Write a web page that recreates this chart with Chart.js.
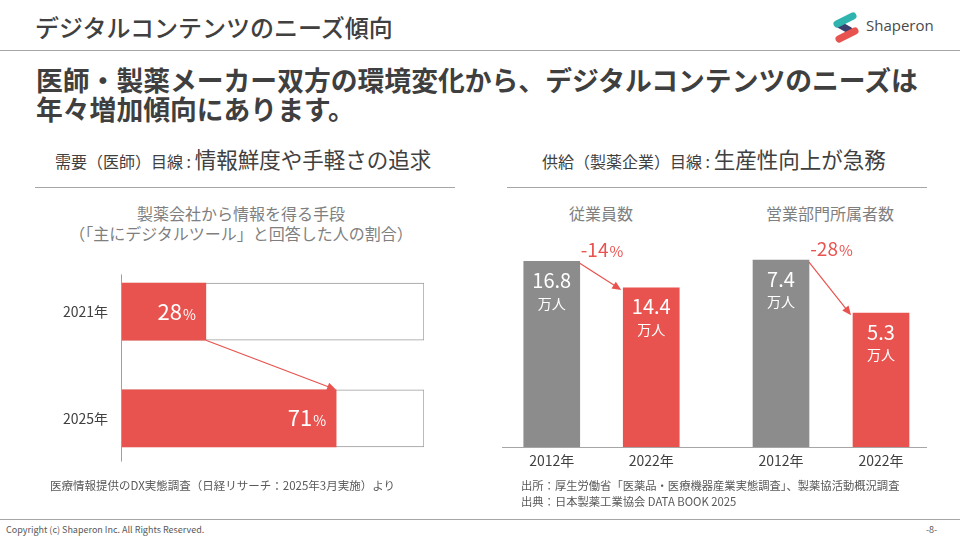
<!DOCTYPE html>
<html lang="ja">
<head>
<meta charset="utf-8">
<title>デジタルコンテンツのニーズ傾向</title>
<script src="https://cdn.jsdelivr.net/npm/chart.js@4.4.1/dist/chart.umd.min.js"></script>
<style>
  body { margin: 0; width: 960px; height: 540px; overflow: hidden; background: #fff; position: relative;
         font-family: "Noto Sans CJK JP", "Noto Sans", sans-serif; color: #404040; }
  .t { position: absolute; white-space: nowrap; line-height: 1; }
  .rule { position: absolute; height: 1px; background: #a6a6a6; }
  canvas { position: absolute; }
</style>
</head>
<body>
<script>
// 需要（医師）：製薬会社から情報を得る手段で「主にデジタルツール」と回答した割合
const needYears = ['2021年', '2025年'];
const needShare = [28, 71];
const needFull = [100, 100];

// 供給（製薬企業）：従業員数・営業部門所属者数（万人）
const supplyYears = ['2012年', '2022年'];
const employees = [16.8, 14.4];
const salesStaff = [7.4, 5.3];
const employeeChange = '-14';
const salesChange = '-28';

const RED = '#e8534f';
const GRAY = '#8c8c8c';
const FONT = '"Noto Sans CJK JP", "Noto Sans", sans-serif';
</script>

<div class="t" style="left:35px;top:15px;font-size:24px;font-weight:500;">デジタルコンテンツのニーズ傾向</div>
<div class="rule" style="left:0;top:50px;width:960px;"></div>
<canvas id="logo" width="40" height="40" style="left:825px;top:8px;"></canvas>
<div class="t" style="left:866px;top:18px;font-size:15px;font-family:'Open Sans',sans-serif;color:#4a4a4a;">Shaperon</div>

<div class="t" style="left:36px;top:67px;font-size:26.8px;font-weight:bold;color:#3f3f3f;">医師・製薬メーカー双方の環境変化から、デジタルコンテンツのニーズは</div>
<div class="t" style="left:36px;top:96px;font-size:26.8px;font-weight:bold;color:#3f3f3f;">年々増加傾向にあります。</div>

<div class="t" style="left:55px;top:148px;"><span style="font-size:16px;">需要（医師）目線 : </span><span style="font-size:21.5px;">情報鮮度や手軽さの追求</span></div>
<div class="rule" style="left:35px;top:187px;width:420px;"></div>
<div class="t" style="left:542px;top:148px;"><span style="font-size:16px;">供給（製薬企業）目線 : </span><span style="font-size:21.5px;">生産性向上が急務</span></div>
<div class="rule" style="left:507px;top:187px;width:420px;"></div>

<div class="t" style="left:41px;width:400px;text-align:center;top:205px;font-size:16px;color:#7f7f7f;">製薬会社から情報を得る手段</div>
<div class="t" style="left:41px;width:400px;text-align:center;top:225px;font-size:16px;color:#7f7f7f;">（「主にデジタルツール」と回答した人の割合）</div>
<div class="t" style="left:501px;width:200px;text-align:center;top:205px;font-size:16px;color:#7f7f7f;">従業員数</div>
<div class="t" style="left:730px;width:200px;text-align:center;top:205px;font-size:16px;color:#7f7f7f;">営業部門所属者数</div>

<canvas id="needChart" width="420" height="256" style="left:40px;top:237px;"></canvas>
<canvas id="empChart" width="230" height="275" style="left:490px;top:200px;"></canvas>
<canvas id="salesChart" width="230" height="275" style="left:720px;top:200px;"></canvas>
<div class="rule" style="left:502px;top:447px;width:425px;"></div>

<div class="t" style="left:50px;top:480px;font-size:11.5px;color:#595959;">医療情報提供のDX実態調査（日経リサーチ：2025年3月実施）より</div>
<div class="t" style="left:521px;top:480px;font-size:11.3px;color:#595959;">出所：厚生労働省「医薬品・医療機器産業実態調査」、製薬協活動概況調査</div>
<div class="t" style="left:521px;top:496px;font-size:11.3px;color:#595959;">出典：日本製薬工業協会 DATA BOOK 2025</div>

<div class="rule" style="left:0;top:519px;width:960px;"></div>
<div class="t" style="left:6px;top:525px;font-size:9px;color:#595959;">Copyright (c) Shaperon Inc.  All Rights Reserved.</div>
<div class="t" style="left:926px;top:525px;font-size:9px;color:#595959;">-8-</div>

<script>
// logo mark
(function () {
  const c = document.getElementById('logo').getContext('2d');
  c.lineCap = 'round';
  c.lineWidth = 7;
  c.strokeStyle = '#3c3f6e';
  c.beginPath(); c.moveTo(15, 17); c.lineTo(24, 22); c.stroke();
  c.strokeStyle = '#2fb3ae';
  c.beginPath(); c.moveTo(12, 16); c.lineTo(28, 8); c.stroke();
  c.strokeStyle = RED;
  c.beginPath(); c.moveTo(14, 31); c.lineTo(30, 23); c.stroke();
})();

function drawArrow(ctx, x1, y1, x2, y2) {
  const a = Math.atan2(y2 - y1, x2 - x1);
  const cos = Math.cos(a), sin = Math.sin(a);
  ctx.strokeStyle = RED;
  ctx.fillStyle = RED;
  ctx.lineWidth = 1.2;
  ctx.beginPath();
  ctx.moveTo(x1, y1);
  ctx.lineTo(x2 - 7 * cos, y2 - 7 * sin);
  ctx.stroke();
  ctx.beginPath();
  ctx.moveTo(x2, y2);
  ctx.lineTo(x2 - 9 * cos + 4 * sin, y2 - 9 * sin - 4 * cos);
  ctx.lineTo(x2 - 9 * cos - 4 * sin, y2 - 9 * sin + 4 * cos);
  ctx.closePath();
  ctx.fill();
}

// number followed by a smaller "%", right edge at x
function drawPercent(ctx, num, x, y, big, small, color, align) {
  ctx.fillStyle = color;
  ctx.textBaseline = 'alphabetic';
  ctx.textAlign = 'left';
  ctx.font = big + 'px ' + FONT;
  const w1 = ctx.measureText(num).width;
  ctx.font = small + 'px ' + FONT;
  const w2 = ctx.measureText('%').width;
  const left = align === 'center' ? x - (w1 + w2) / 2 : x - w1 - w2;
  ctx.font = big + 'px ' + FONT;
  ctx.fillText(num, left, y);
  ctx.font = small + 'px ' + FONT;
  ctx.fillText('%', left + w1 + 1, y);
}

const needMarks = {
  id: 'needMarks',
  afterDatasetsDraw(chart) {
    const { ctx, chartArea } = chart;
    const bars = chart.getDatasetMeta(0).data;
    ctx.save();
    ctx.strokeStyle = '#a0a0a0';
    ctx.lineWidth = 1;
    ctx.beginPath();
    ctx.moveTo(chartArea.left + 0.5, chartArea.top + 16);
    ctx.lineTo(chartArea.left + 0.5, chartArea.bottom - 10);
    ctx.stroke();
    bars.forEach((bar, i) => {
      drawPercent(ctx, String(needShare[i]), bar.x - 11, bar.y + 8, 22, 14, '#ffffff');
    });
    const a = bars[0], b = bars[1];
    drawArrow(ctx, a.x, a.y + a.height / 2, b.x, b.y - b.height / 2);
    ctx.restore();
  }
};

new Chart(document.getElementById('needChart'), {
  type: 'bar',
  data: {
    labels: needYears,
    datasets: [
      { data: needShare, backgroundColor: RED, borderWidth: 0, barThickness: 57, grouped: false, order: 0 },
      { data: needFull, backgroundColor: '#ffffff', borderColor: '#9a9a9a', borderWidth: 1,
        borderSkipped: 'start', barThickness: 57, grouped: false, order: 1 }
    ]
  },
  options: {
    indexAxis: 'y',
    responsive: false,
    animation: false,
    layout: { padding: { top: 10, bottom: 8, right: 36, left: 0 } },
    plugins: { legend: { display: false }, tooltip: { enabled: false } },
    scales: {
      x: { display: false, min: 0, max: 100 },
      y: {
        grid: { display: false, drawTicks: false },
        border: { display: false },
        ticks: { color: '#404040', font: { size: 14, family: FONT }, padding: 13 },
        afterFit(scale) { scale.width = 81; }
      }
    }
  },
  plugins: [needMarks]
});

const supplyMarks = {
  id: 'supplyMarks',
  afterDatasetsDraw(chart, args, opts) {
    const { ctx } = chart;
    const bars = chart.getDatasetMeta(0).data;
    const values = chart.data.datasets[0].data;
    ctx.save();
    ctx.fillStyle = '#ffffff';
    ctx.textAlign = 'center';
    ctx.textBaseline = 'middle';
    bars.forEach((bar, i) => {
      ctx.font = '20px ' + FONT;
      ctx.fillText(values[i].toFixed(1), bar.x, bar.y + 19);
      ctx.font = '14px ' + FONT;
      ctx.fillText('万人', bar.x, bar.y + 42);
    });
    const a = bars[0], b = bars[1];
    drawArrow(ctx, a.x + a.width / 2, a.y + 2, b.x - b.width / 2 - 2, b.y + 2);
    drawPercent(ctx, opts.change, (a.x + b.x) / 2, a.y - 4, 19, 15, RED, 'center');
    ctx.restore();
  }
};

function drawSupplyChart(id, values, yMax, change, padLeft) {
  new Chart(document.getElementById(id), {
    type: 'bar',
    data: {
      labels: supplyYears,
      datasets: [{ data: values, backgroundColor: [GRAY, RED], borderWidth: 0, barThickness: 56 }]
    },
    options: {
      responsive: false,
      animation: false,
      layout: { padding: { top: 26, bottom: 2, left: padLeft, right: 19 } },
      plugins: { legend: { display: false }, tooltip: { enabled: false }, supplyMarks: { change: change } },
      scales: {
        x: {
          grid: { display: false, drawTicks: false },
          border: { display: false },
          ticks: { color: '#404040', font: { size: 14, family: FONT }, padding: 5 },
          afterFit(scale) { scale.height = 26; }
        },
        y: { display: false, min: 0, max: yMax }
      }
    },
    plugins: [supplyMarks]
  });
}

drawSupplyChart('empChart', employees, 20, employeeChange, 12);
drawSupplyChart('salesChart', salesStaff, 8.75, salesChange, 11);
</script>
</body>
</html>
